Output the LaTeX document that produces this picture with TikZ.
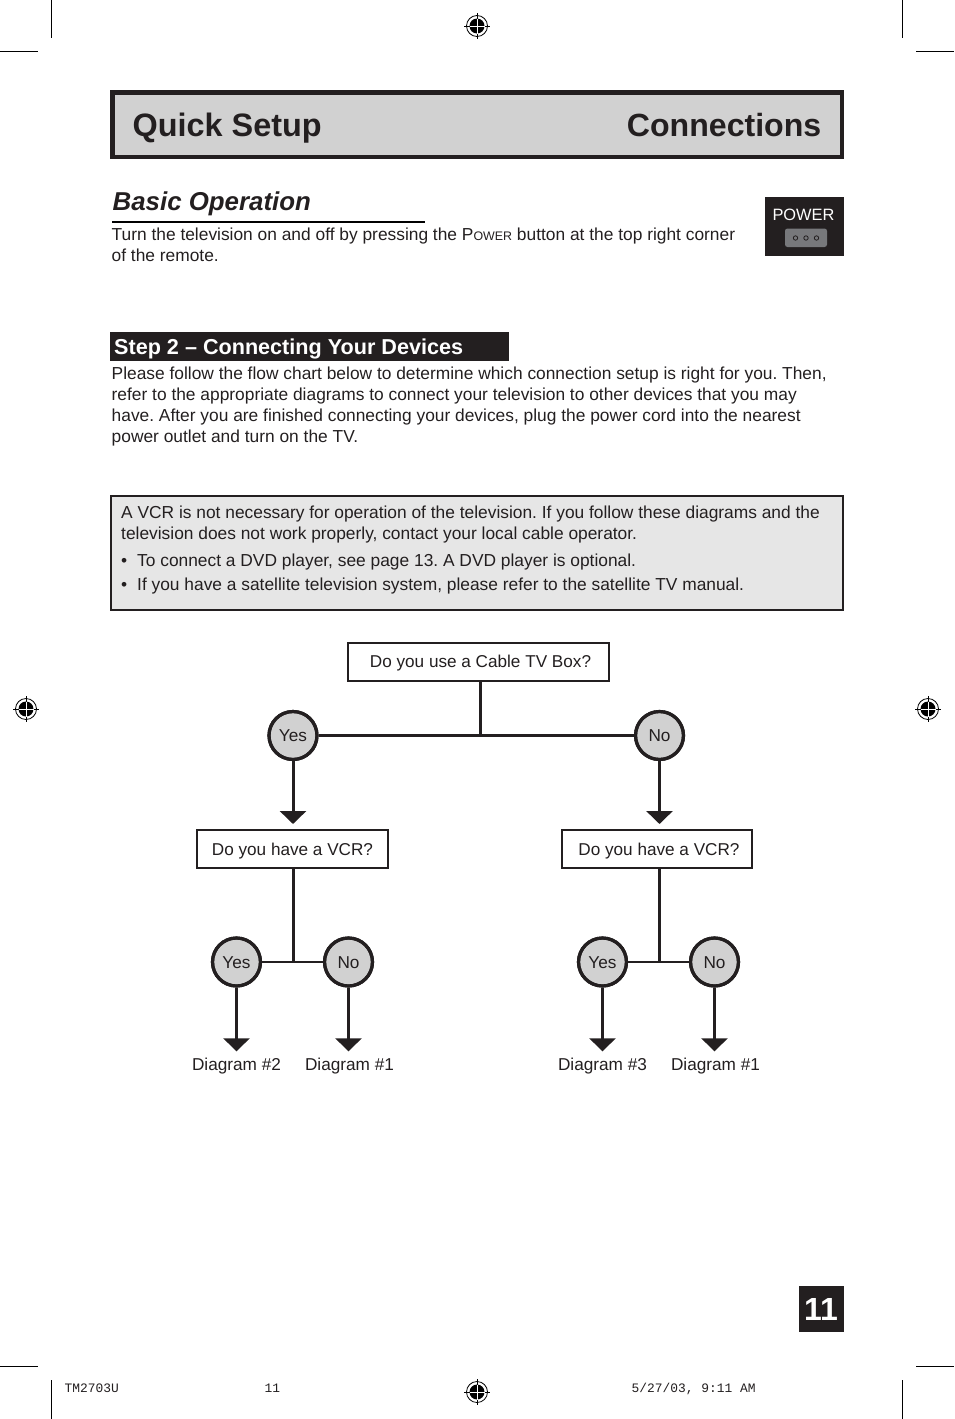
\documentclass[tikz,border=0pt]{standalone}
\usepackage{fontspec}
\setmainfont{Liberation Sans}
\newfontfamily\footfont{Liberation Mono}
\usetikzlibrary{arrows.meta,positioning,calc}
\definecolor{inkblack}{HTML}{231F20}
\definecolor{titlegray}{HTML}{D1D1D1}
\definecolor{notegray}{HTML}{E6E6E6}
\definecolor{btngray}{HTML}{77787B}
\frenchspacing
\tikzset{
  bodytext/.style={anchor=base west,inner sep=0pt,align=left,font=\fontsize{17.36}{21}\selectfont,text=inkblack},
  askbox/.style={draw=inkblack,line width=2pt,fill=white,minimum height=38pt,inner sep=0pt,text height=12pt,text depth=0pt,font=\fontsize{17.15}{21}\selectfont,text=inkblack},
  answer/.style={circle,draw=inkblack,line width=3.2pt,fill=titlegray,minimum size=48pt,inner sep=0pt,font=\fontsize{17.2}{21}\selectfont,text=inkblack},
  result/.style={inner sep=0pt,font=\fontsize{17.2}{21}\selectfont,text=inkblack},
  drop/.style={draw=inkblack,line width=3pt,-{Triangle[width=26pt,length=13pt]}},
  cropline/.style={draw=black,line width=1pt},
  foot/.style={anchor=base west,inner sep=0pt,font=\footfont\fontsize{12.9}{14}\selectfont,text=inkblack},
  regmark/.pic={
    \fill[black] (0,0) circle (7.5);
    \draw[black,line width=0.8pt] (0,0) circle (10.5);
    \draw[black,line width=0.8pt] (-13,0) -- (13,0) (0,-13) -- (0,13);
    \draw[white,line width=0.8pt] (-7.5,0) -- (7.5,0) (0,-7.5) -- (0,7.5);
  }
}
\begin{document}
\begin{tikzpicture}[x=1pt,y=-1pt]
\useasboundingbox (0,0) rectangle (954,1419);
% crop marks
\draw[cropline] (51.5,0) -- (51.5,38) (902.5,0) -- (902.5,38);
\draw[cropline] (0,51.5) -- (38,51.5) (916,51.5) -- (954,51.5);
\draw[cropline] (51.5,1380) -- (51.5,1419) (902.5,1380) -- (902.5,1419);
\draw[cropline] (0,1366.5) -- (38,1366.5) (916,1366.5) -- (954,1366.5);
\pic at (477,26) {regmark};
\pic at (26,709) {regmark};
\pic at (928,709) {regmark};
\pic at (477,1392) {regmark};
% title bar
\draw[draw=inkblack,fill=titlegray,line width=4.5pt] (112.25,92.25) rectangle (841.75,156.75);
\node[anchor=base west,inner sep=0pt,text=inkblack,font=\fontsize{32.4}{36}\selectfont\bfseries] (setup) at (132.5,136) {Quick Setup};
\node[anchor=base east,inner sep=0pt,text=inkblack,font=\fontsize{32.1}{36}\selectfont\bfseries] (conn) at (821.5,136) {Connections};
% basic operation
\node[anchor=base west,inner sep=0pt,text=inkblack,font=\fontsize{25.85}{30}\selectfont\bfseries\itshape] (basic) at (112.5,210.5) {Basic Operation};
\draw[draw=black,line width=1.5pt] (112,222) -- (425,222);
\node[bodytext] (turn) at (111.5,261) {Turn the television on and off by pressing the P{\fontsize{12.4}{21}\selectfont OWER} button at the top right corner\\of the remote.};
% power button
\fill[inkblack] (765,197) rectangle (844,256);
\node[anchor=base,inner sep=0pt,text=white,font=\fontsize{16.4}{21}\selectfont] (power) at (803.5,220) {POWER};
\fill[btngray,rounded corners=2.5pt] (785,228.5) rectangle (827,247);
\foreach \px in {795.5,806,816.5} {
  \draw[draw=inkblack,line width=0.8pt] (\px,238) circle (2.2);
}
% step 2
\fill[inkblack] (110,332) rectangle (509,361);
\node[anchor=base west,inner sep=0pt,text=white,font=\fontsize{21.6}{24}\selectfont\bfseries] (step2) at (114,354.5) {Step 2 – Connecting Your Devices};
\node[bodytext,font=\fontsize{17.36}{20.7}\selectfont] (please) at (111.5,442) {Please follow the flow chart below to determine which connection setup is right for you. Then,\\refer to the appropriate diagrams to connect your television to other devices that you may\\have. After you are finished connecting your devices, plug the power cord into the nearest\\power outlet and turn on the TV.};
% note box
\draw[draw=inkblack,fill=notegray,line width=2pt] (111,496) rectangle (843,610);
\node[bodytext] (vcr) at (121,539.5) {A VCR is not necessary for operation of the television. If you follow these diagrams and the\\television does not work properly, contact your local cable operator.};
\node[bodytext] (b1) at (121,566.5) {•};
\node[bodytext] (dvd) at (137,566.5) {To connect a DVD player, see page 13. A DVD player is optional.};
\node[bodytext] (b2) at (121,590) {•};
\node[bodytext] (sat) at (137,590) {If you have a satellite television system, please refer to the satellite TV manual.};
% flow chart
\node[askbox,minimum width=261pt] (cable) at (478.5,661.5) {\hspace*{4pt}Do you use a Cable TV Box?};
\node[answer] (yes) at (293,735.5) {Yes};
\node[answer] (no) at (659.5,735.5) {No};
\node[askbox,minimum width=191pt] (vcrl) at (292.5,849) {Do you have a VCR?};
\node[askbox,minimum width=190pt] (vcrr) at (657,849) {\hspace*{4pt}Do you have a VCR?};
\node[answer,text height=12.5pt,text depth=0pt] (yesl) at (236.5,962) {Yes};
\node[answer,text height=12.5pt,text depth=0pt] (nol) at (348.5,962) {No};
\node[answer,text height=12.5pt,text depth=0pt] (yesr) at (602.5,962) {Yes};
\node[answer,text height=12.5pt,text depth=0pt] (nor) at (714.5,962) {No};
\node[result] (d2) at (236.5,1066.5) {Diagram \#2};
\node[result] (d1l) at (349.5,1066.5) {Diagram \#1};
\node[result] (d3) at (602.5,1066.5) {Diagram \#3};
\node[result] (d1r) at (715.5,1066.5) {Diagram \#1};
\coordinate (top) at (480.5,735.5);
\coordinate (midl) at (293.5,962);
\coordinate (midr) at (659.5,962);
\draw[draw=inkblack,line width=3pt] (yes) -- (no);
\draw[draw=inkblack,line width=3pt] (top |- cable.south) -- (top);
\draw[draw=inkblack,line width=3pt] (midl |- vcrl.south) -- (midl);
\draw[draw=inkblack,line width=3pt] (midr |- vcrr.south) -- (midr);
\draw[draw=inkblack,line width=2pt] (yesl) -- (nol);
\draw[draw=inkblack,line width=2pt] (yesr) -- (nor);
\draw[drop,shorten >=5pt] (yes) -- (yes |- vcrl.north);
\draw[drop,shorten >=5pt] (no) -- (no |- vcrr.north);
\draw[drop] (yesl) -- ($(d2.north)+(0,-7)$);
\draw[drop] (nol) -- ($(nol |- d1l.north)+(0,-7)$);
\draw[drop] (yesr) -- ($(d3.north)+(0,-7)$);
\draw[drop] (nor) -- ($(nor |- d1r.north)+(0,-7)$);
\foreach \nd in {yes,no,yesl,nol,yesr,nor} {
  \draw[draw=inkblack,line width=3.2pt] (\nd) circle (24);
}
% page number
\fill[inkblack] (799,1286) rectangle (844,1332);
\node[inner sep=0pt,text=white,font=\fontsize{32}{36}\selectfont\bfseries] (page) at (821,1309.5) {11};
% footer
\node[foot] (job) at (64.5,1392) {TM2703U};
\node[foot] (sheet) at (264.5,1392) {11};
\node[foot] (stamp) at (631.5,1392) {5/27/03, 9:11 AM};
\end{tikzpicture}
\end{document}
